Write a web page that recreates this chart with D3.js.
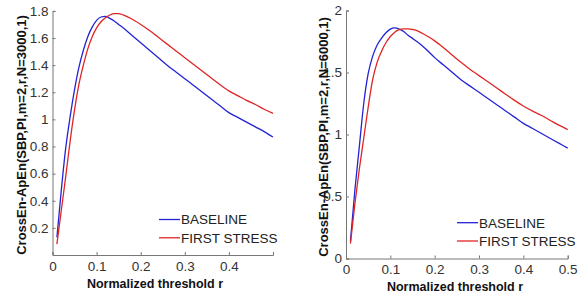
<!DOCTYPE html>
<html>
<head>
<meta charset="utf-8">
<script src="https://cdn.jsdelivr.net/npm/d3@7"></script>
<style>
  body { margin: 0; background: #fff; }
  svg { display: block; }
  .tick text { font-family: "Liberation Sans", Arial, sans-serif; font-size: 13.5px; fill: #333; }
  .lab { font-family: "Liberation Sans", Arial, sans-serif; font-weight: bold; fill: #111; }
  .leg { font-family: "Liberation Sans", Arial, sans-serif; font-size: 13.5px; fill: #222; }
</style>
</head>
<body>
<svg id="chart" width="587" height="297"></svg>
<script>

// threshold r (shared by all curves)
var rValues = [0.01,0.02,0.03,0.04,0.05,0.06,0.07,0.08,0.09,0.10,0.11,0.12,0.13,0.14,0.15,0.16,
               0.18,0.20,0.22,0.24,0.26,0.28,0.30,0.32,0.34,0.36,0.38,0.40,0.42,0.44,0.46,0.48,0.50];

// left panel, N=3000
var baseline3000 = [0.13,0.48,0.79,1.02,1.22,1.385,1.51,1.61,1.68,1.73,1.755,1.76,1.745,1.725,1.70,1.675,
                    1.62,1.565,1.51,1.455,1.40,1.35,1.30,1.25,1.20,1.15,1.10,1.05,1.015,0.98,0.945,0.91,0.87];
var stress3000   = [0.08,0.33,0.58,0.84,1.07,1.26,1.40,1.52,1.61,1.675,1.72,1.75,1.77,1.78,1.78,1.77,
                    1.74,1.70,1.655,1.605,1.555,1.505,1.455,1.405,1.355,1.305,1.255,1.21,1.175,1.14,1.11,1.075,1.045];

// right panel, N=6000
var baseline6000 = [0.14,0.55,0.90,1.25,1.49,1.63,1.72,1.775,1.82,1.85,1.86,1.85,1.83,1.80,1.775,1.75,
                    1.69,1.62,1.56,1.50,1.44,1.39,1.34,1.29,1.24,1.19,1.14,1.09,1.05,1.01,0.97,0.93,0.89];
var stress6000   = [0.12,0.44,0.72,0.97,1.22,1.44,1.58,1.67,1.74,1.79,1.825,1.845,1.852,1.852,1.847,1.837,
                    1.80,1.755,1.70,1.64,1.58,1.525,1.475,1.425,1.375,1.325,1.275,1.23,1.19,1.155,1.115,1.075,1.04];

var xTicksLeft = [0, 0.1, 0.2, 0.3, 0.4];
var yTicksLeft = [0.2, 0.4, 0.6, 0.8, 1, 1.2, 1.4, 1.6, 1.8];
var xTicksRight = [0, 0.1, 0.2, 0.3, 0.4, 0.5];
var yTicksRight = [0, 0.5, 1, 1.5, 2];

var seriesNames = ["BASELINE", "FIRST STRESS"];
var colors = ["#2323d6", "#e02424"];

var svg = d3.select("#chart");

var panels = [
    { x0: 52.5, x1: 273, y0: 255, y1: 10.9, yMax: 1.8, xt: xTicksLeft, yt: yTicksLeft,
      series: [baseline3000, stress3000], ylab: "CrossEn-ApEn(SBP,PI,m=2,r,N=3000,1)",
      ylabX: 21, ylabY: 135, xlabX: 155, xlabY: 288, legX: 159, legY: 219.5 },
    { x0: 346, x1: 567.7, y0: 258.5, y1: 10.5, yMax: 2, xt: xTicksRight, yt: yTicksRight,
      series: [baseline6000, stress6000], ylab: "CrossEn-ApEn(SBP,PI,m=2,r,N=6000,1)",
      ylabX: 323, ylabY: 137, xlabX: 455, xlabY: 291, legX: 457, legY: 222.7 }
];

panels.forEach(function(p){

    var x = d3.scaleLinear().domain([0, 0.5]).range([p.x0, p.x1]);
    var y = d3.scaleLinear().domain([0, p.yMax]).range([p.y0, p.y1]);

    var g = svg.append("g");

    var xAxis = g.append("g")
	.attr("transform", "translate(0," + p.y0 + ")")
	.call(d3.axisBottom(x).tickValues(p.xt).tickSize(-3).tickPadding(6).tickFormat(d3.format("~g")));
    var yAxis = g.append("g")
	.attr("transform", "translate(" + p.x0 + ",0)")
	.call(d3.axisLeft(y).tickValues(p.yt).tickSize(-3).tickPadding(4).tickFormat(d3.format("~g")));

    [xAxis, yAxis].forEach(function(a){
	a.select(".domain").attr("stroke", "#777").attr("stroke-width", 1);
	a.selectAll(".tick line").attr("stroke", "#777");
    });

    var line = d3.line()
	.x(function(d, i){ return x(rValues[i]); })
	.y(function(d){ return y(d); })
	.curve(d3.curveMonotoneX);

    p.series.forEach(function(s, k){
	g.append("path")
	    .attr("d", line(s))
	    .attr("fill", "none")
	    .attr("stroke", colors[k])
	    .attr("stroke-width", 1.3);
    });

    // legend
    seriesNames.forEach(function(name, k){
	var ly = p.legY + k * 18.3;
	g.append("line")
	    .attr("x1", p.legX).attr("x2", p.legX + 21)
	    .attr("y1", ly).attr("y2", ly)
	    .attr("stroke", colors[k]).attr("stroke-width", 1.3);
	g.append("text").attr("class", "leg")
	    .attr("x", p.legX + 22).attr("y", ly + 4.8)
	    .text(name);
    });

    g.append("text").attr("class", "lab")
	.attr("x", p.xlabX).attr("y", p.xlabY)
	.attr("text-anchor", "middle")
	.style("font-size", "12.5px")
	.text("Normalized threshold r");

    g.append("text").attr("class", "lab")
	.attr("transform", "translate(" + p.ylabX + "," + p.ylabY + ") rotate(-90)")
	.attr("text-anchor", "middle")
	.attr("dy", "0.35em")
	.style("font-size", "13px")
	.text(p.ylab);
});

</script>
</body>
</html>
